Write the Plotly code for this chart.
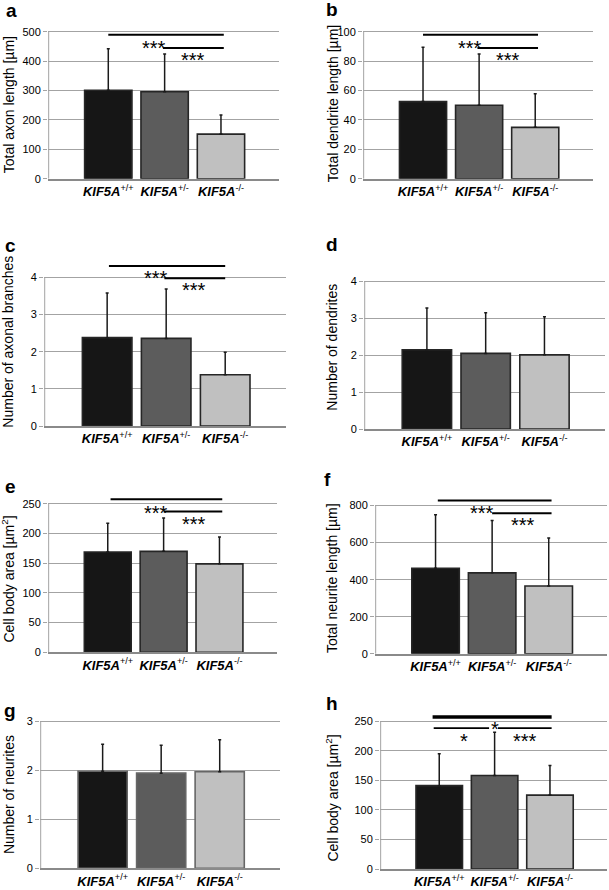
import plotly.graph_objects as go

W, H = 609, 890

# ---------------- data ----------------
groups = ["KIF5A+/+", "KIF5A+/-", "KIF5A-/-"]
tick_labels = ["<b><i>KIF5A</i></b><sup>+/+</sup>",
               "<b><i>KIF5A</i></b><sup>+/-</sup>",
               "<b><i>KIF5A</i></b><sup>-/-</sup>"]

a_mean = [301, 296, 152]
a_sd = [141, 128, 65]
b_mean = [52.5, 50, 35]
b_sd = [36.9, 34.9, 22.9]
c_mean = [2.38, 2.36, 1.38]
c_sd = [1.20, 1.33, 0.61]
d_mean = [2.15, 2.05, 2.01]
d_sd = [1.13, 1.10, 1.03]
e_mean = [169, 170, 149]
e_sd = [48.5, 56, 45]
f_mean = [462, 437, 366]
f_sd = [288, 283, 259]
g_mean = [1.98, 1.94, 1.97]
g_sd = [0.55, 0.57, 0.65]
h_mean = [141, 158, 125]
h_sd = [54, 73, 50]

y_titles = {
    "a": "Total axon length [µm]",
    "b": "Total dendrite length [µm]",
    "c": "Number of axonal branches",
    "d": "Number of dendrites",
    "e": "Cell body area [µm<sup>2</sup>]",
    "f": "Total neurite length [µm]",
    "g": "Number of neurites",
    "h": "Cell body area [µm<sup>2</sup>]",
}

# significance brackets: (from group, to group, level) and star labels (x, y, text)
sig_lines = {
    "a": [(0, 2.05, 490), (0.97, 2.05, 445)],
    "b": [(0, 2.05, 98), (0.97, 2.05, 89)],
    "c": [(0.03, 2.0, 4.31), (0.97, 2.0, 3.98)],
    "e": [(0.05, 2.05, 258), (1.0, 2.05, 237)],
    "f": [(0.04, 2.05, 827), (1.0, 2.05, 759)],
    "h": [(-0.12, 2.03, 256.8), (-0.1, 0.9, 238.3), (1.06, 2.03, 238.3)],
}
sig_stars = {
    "a": [(0.81, 464, "***"), (1.51, 426, "***")],
    "b": [(0.84, 92.8, "***"), (1.52, 85, "***")],
    "c": [(0.82, 4.15, "***"), (1.47, 3.82, "***")],
    "e": [(0.87, 245.5, "***"), (1.54, 226, "***")],
    "f": [(0.82, 791, "***"), (1.54, 727, "***")],
    "h": [(1.01, 247, "*"), (0.44, 226, "*"), (1.55, 226, "***")],
}

panels = [
    ("a", a_mean, a_sd, 500, 100),
    ("b", b_mean, b_sd, 100, 20),
    ("c", c_mean, c_sd, 4, 1),
    ("d", d_mean, d_sd, 4, 1),
    ("e", e_mean, e_sd, 250, 50),
    ("f", f_mean, f_sd, 800, 200),
    ("g", g_mean, g_sd, 3, 1),
    ("h", h_mean, h_sd, 250, 50),
]

# ---------------- layout geometry (pixels) ----------------
# left, right, y of zero, y of top tick
geom = {
    "a": (48, 279, 180, 32),
    "b": (363, 593, 180, 32),
    "c": (44, 286, 429, 279.3),
    "d": (364, 605, 432, 283.3),
    "e": (48, 277, 656.7, 507.3),
    "f": (375, 607, 658.3, 509),
    "g": (40, 280, 874.3, 726),
    "h": (380, 607, 875, 726),
}
title_pos = {  # x center, y center of y-axis titles
    "a": (9, 106), "b": (333, 104), "c": (8, 344), "d": (332, 350),
    "e": (8.5, 583), "f": (332, 582), "g": (8.5, 800), "h": (332, 804),
}
label_pos = {
    "a": (11, 11), "b": (332, 10), "c": (10, 247), "d": (332, 246),
    "e": (10, 490), "f": (327, 483), "g": (10, 715), "h": (332, 708),
}

bar_colors = ["#161616", "#5c5c5c", "#c0c0c0"]
XR = [-1.07, 3.03]
EXT = 1.1
FONT = "Liberation Sans, Arial, sans-serif"
GRID = "#a3a3a3"


def px(x):
    return x / W


def py(y):
    return 1 - y / H


fig = go.Figure()
layout = dict(
    width=W, height=H, margin=dict(l=0, r=0, t=0, b=0),
    paper_bgcolor="white", plot_bgcolor="white", showlegend=False,
    font=dict(family=FONT, color="black"),
)
shapes = []
annotations = []

for i, (key, mean, sd, ymax, dtick) in enumerate(panels):
    n = "" if i == 0 else str(i + 1)
    xa, ya = "x" + n, "y" + n
    left, right, y0, ytop = geom[key]
    ppu = (y0 - ytop) / ymax
    top_px = y0 - EXT * ymax * ppu
    outline = "#666666" if key == "g" else "#262626"
    fig.add_trace(go.Bar(
        x=[0, 1, 2], y=mean, xaxis=xa, yaxis=ya, width=0.84,
        marker=dict(color=bar_colors, line=dict(color=outline, width=1.6)),
        error_y=dict(type="data", symmetric=False, array=sd,
                     arrayminus=[0, 0, 0], color="#1a1a1a",
                     thickness=1.5, width=1.5),
        name=key, hoverinfo="skip",
    ))
    layout["xaxis" + n] = dict(
        domain=[px(left), px(right)], range=XR, anchor=ya,
        tickmode="array", tickvals=[0, 1, 2], ticktext=tick_labels,
        tickfont=dict(size=13, family=FONT, color="black"),
        showgrid=False, zeroline=False, showline=True,
        linecolor="#8a8a8a", linewidth=1.5, ticks="", fixedrange=True,
    )
    layout["yaxis" + n] = dict(
        domain=[py(y0), py(top_px)], range=[0, ymax * EXT], anchor=xa,
        tickmode="linear", tick0=0, dtick=dtick,
        tickfont=dict(size=11, family=FONT, color="black"),
        showgrid=True, gridcolor=GRID, gridwidth=1, zeroline=False,
        showline=False, ticks="outside", ticklen=4, tickcolor=GRID,
        fixedrange=True,
    )
    # left axis line up to the top tick
    shapes.append(dict(type="line", xref=xa, yref=ya,
                       x0=XR[0] + 0.012, x1=XR[0] + 0.012, y0=0, y1=ymax,
                       line=dict(color=GRID, width=1)))
    # significance lines
    for j, (x0, x1, yv) in enumerate(sig_lines.get(key, [])):
        w = 2
        if key == "h":
            w = 3.5 if j == 0 else 1.8
        shapes.append(dict(type="line", xref=xa, yref=ya, x0=x0, x1=x1,
                           y0=yv, y1=yv, line=dict(color="black", width=w)))
    for (sx, sy, txt) in sig_stars.get(key, []):
        annotations.append(dict(x=sx, y=sy, xref=xa, yref=ya, text=txt,
                                showarrow=False, yshift=-6,
                                font=dict(size=20, family=FONT, color="black")))
    # y title
    tx, ty = title_pos[key]
    annotations.append(dict(x=px(tx), y=py(ty), xref="paper", yref="paper",
                            text=y_titles[key], textangle=-90, showarrow=False,
                            xanchor="center", yanchor="middle",
                            font=dict(size=14, family=FONT, color="black")))
    # panel label
    lx, ly = label_pos[key]
    annotations.append(dict(x=px(lx), y=py(ly), xref="paper", yref="paper",
                            text="<b>%s</b>" % key, showarrow=False,
                            xanchor="center", yanchor="middle",
                            font=dict(size=19, family=FONT, color="black")))

layout["shapes"] = shapes
layout["annotations"] = annotations
fig.update_layout(**layout)
fig.write_html("out.html",
               config={"displayModeBar": False},
               post_script="document.body.style.margin='0';"
                           "document.body.style.overflow='hidden';")
